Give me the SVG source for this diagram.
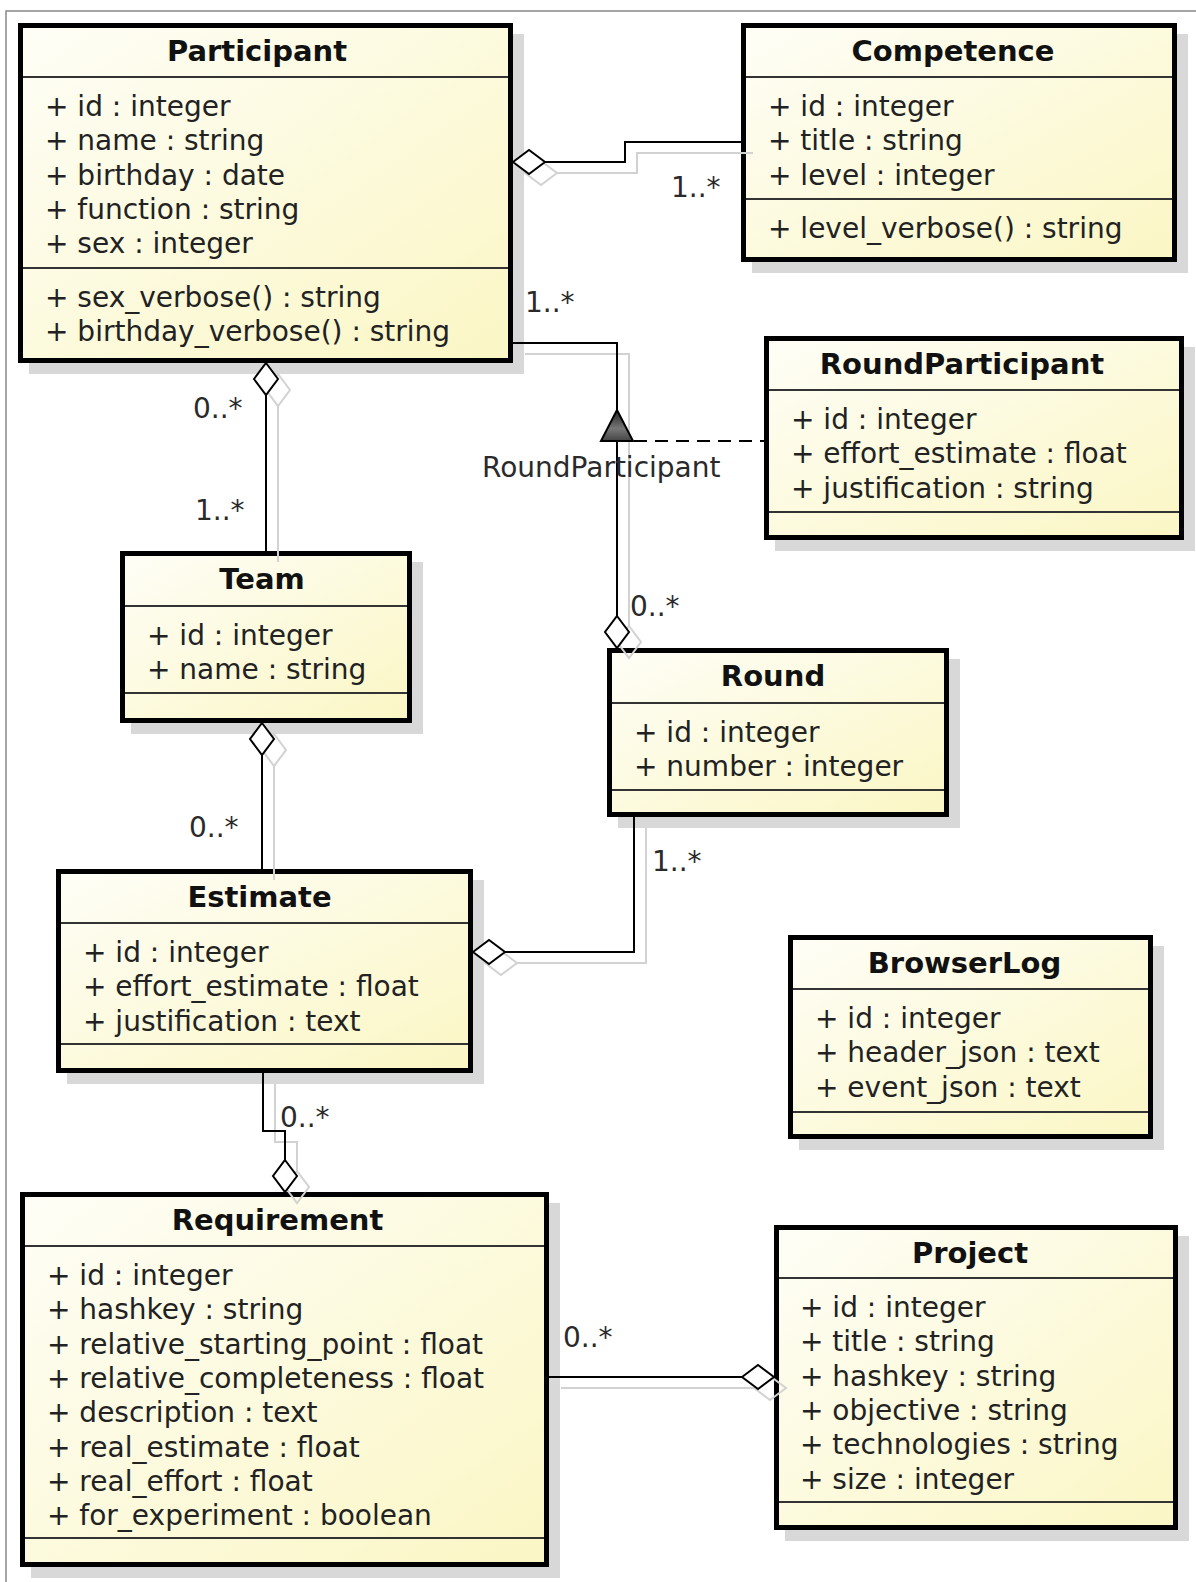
<svg xmlns="http://www.w3.org/2000/svg" width="1196" height="1582" viewBox="0 0 1196 1582">
  <defs>
    <linearGradient id="classFill" x1="0" y1="0" x2="1" y2="1">
      <stop offset="0" stop-color="#fefef7"/>
      <stop offset="1" stop-color="#fbf6c4"/>
    </linearGradient>
    <linearGradient id="triFill" x1="0" y1="0" x2="0" y2="1">
      <stop offset="0" stop-color="#222"/>
      <stop offset="0.6" stop-color="#777"/>
      <stop offset="1" stop-color="#444"/>
    </linearGradient>
    <style>
      .shadow { fill: #d8d8d8; }
      .box { fill: url(#classFill); stroke: #000; stroke-width: 5; }
      .div { stroke: #333; stroke-width: 2; }
      .title { font-family: "DejaVu Sans", sans-serif; font-size: 29px; font-weight: bold; fill: #111; text-anchor: middle; }
      .attr { font-family: "DejaVu Sans", sans-serif; font-size: 28px; fill: #222; }
      .lbl { font-family: "DejaVu Sans", sans-serif; font-size: 28px; fill: #2a2a2a; }
      .line { fill: none; stroke: #000; stroke-width: 2; }
      .ghost { fill: none; stroke: #d2d2d2; stroke-width: 2; }
      .dia { fill: #fff; stroke: #000; stroke-width: 2; }
      .frame { stroke: #888; stroke-width: 1.5; fill: none; }
    </style>
  </defs>

  <rect width="1196" height="1582" fill="#fff"/>
  <!-- diagram frame -->
  <path class="frame" d="M1196,11 H6 V1582"/>

  <!-- class boxes -->
  <g id="Participant">
    <rect class="shadow" x="29" y="34" width="495" height="340"/>
    <rect class="box" x="20.5" y="25.5" width="490" height="335"/>
    <line class="div" x1="23" y1="77" x2="508" y2="77"/>
    <line class="div" x1="23" y1="268" x2="508" y2="268"/>
    <text class="title" x="257" y="61">Participant</text>
    <text class="attr" x="45" y="116">+ id : integer</text>
    <text class="attr" x="45" y="150.3">+ name : string</text>
    <text class="attr" x="45" y="184.6">+ birthday : date</text>
    <text class="attr" x="45" y="218.9">+ function : string</text>
    <text class="attr" x="45" y="253.2">+ sex : integer</text>
    <text class="attr" x="45" y="307">+ sex_verbose() : string</text>
    <text class="attr" x="45" y="341.3">+ birthday_verbose() : string</text>
  </g>

  <g id="Competence">
    <rect class="shadow" x="752" y="34" width="436" height="239"/>
    <rect class="box" x="743.5" y="25.5" width="431" height="234"/>
    <line class="div" x1="746" y1="77" x2="1172" y2="77"/>
    <line class="div" x1="746" y1="199" x2="1172" y2="199"/>
    <text class="title" x="953" y="61">Competence</text>
    <text class="attr" x="768" y="116">+ id : integer</text>
    <text class="attr" x="768" y="150.3">+ title : string</text>
    <text class="attr" x="768" y="184.6">+ level : integer</text>
    <text class="attr" x="768" y="238">+ level_verbose() : string</text>
  </g>

  <g id="RoundParticipant">
    <rect class="shadow" x="775" y="347" width="420" height="204"/>
    <rect class="box" x="766.5" y="338.5" width="415" height="199"/>
    <line class="div" x1="769" y1="390" x2="1179" y2="390"/>
    <line class="div" x1="769" y1="512" x2="1179" y2="512"/>
    <text class="title" x="962" y="374">RoundParticipant</text>
    <text class="attr" x="791" y="429">+ id : integer</text>
    <text class="attr" x="791" y="463.3">+ effort_estimate : float</text>
    <text class="attr" x="791" y="497.6">+ justification : string</text>
  </g>

  <g id="Team">
    <rect class="shadow" x="131" y="562" width="292" height="172"/>
    <rect class="box" x="122.5" y="553.5" width="287" height="167"/>
    <line class="div" x1="125" y1="606" x2="407" y2="606"/>
    <line class="div" x1="125" y1="693" x2="407" y2="693"/>
    <text class="title" x="262" y="589">Team</text>
    <text class="attr" x="147" y="645">+ id : integer</text>
    <text class="attr" x="147" y="679.3">+ name : string</text>
  </g>

  <g id="Round">
    <rect class="shadow" x="618" y="659" width="342" height="169"/>
    <rect class="box" x="609.5" y="650.5" width="337" height="164"/>
    <line class="div" x1="612" y1="703" x2="944" y2="703"/>
    <line class="div" x1="612" y1="790" x2="944" y2="790"/>
    <text class="title" x="773" y="686">Round</text>
    <text class="attr" x="634" y="742">+ id : integer</text>
    <text class="attr" x="634" y="776.3">+ number : integer</text>
  </g>

  <g id="Estimate">
    <rect class="shadow" x="67" y="880" width="417" height="204"/>
    <rect class="box" x="58.5" y="871.5" width="412" height="199"/>
    <line class="div" x1="61" y1="923" x2="468" y2="923"/>
    <line class="div" x1="61" y1="1044" x2="468" y2="1044"/>
    <text class="title" x="259.5" y="907">Estimate</text>
    <text class="attr" x="83" y="962">+ id : integer</text>
    <text class="attr" x="83" y="996.3">+ effort_estimate : float</text>
    <text class="attr" x="83" y="1030.6">+ justification : text</text>
  </g>

  <g id="BrowserLog">
    <rect class="shadow" x="799" y="946" width="365" height="204"/>
    <rect class="box" x="790.5" y="937.5" width="360" height="199"/>
    <line class="div" x1="793" y1="989" x2="1148" y2="989"/>
    <line class="div" x1="793" y1="1112" x2="1148" y2="1112"/>
    <text class="title" x="964.5" y="973">BrowserLog</text>
    <text class="attr" x="815" y="1028">+ id : integer</text>
    <text class="attr" x="815" y="1062.3">+ header_json : text</text>
    <text class="attr" x="815" y="1096.6">+ event_json : text</text>
  </g>

  <g id="Requirement">
    <rect class="shadow" x="31" y="1203" width="529" height="375"/>
    <rect class="box" x="22.5" y="1194.5" width="524" height="370"/>
    <line class="div" x1="25" y1="1246" x2="544" y2="1246"/>
    <line class="div" x1="25" y1="1538" x2="544" y2="1538"/>
    <text class="title" x="277.5" y="1230">Requirement</text>
    <text class="attr" x="47" y="1285">+ id : integer</text>
    <text class="attr" x="47" y="1319.3">+ hashkey : string</text>
    <text class="attr" x="47" y="1353.6">+ relative_starting_point : float</text>
    <text class="attr" x="47" y="1387.9">+ relative_completeness : float</text>
    <text class="attr" x="47" y="1422.2">+ description : text</text>
    <text class="attr" x="47" y="1456.5">+ real_estimate : float</text>
    <text class="attr" x="47" y="1490.8">+ real_effort : float</text>
    <text class="attr" x="47" y="1525.1">+ for_experiment : boolean</text>
  </g>

  <g id="Project">
    <rect class="shadow" x="785" y="1236" width="404" height="305"/>
    <rect class="box" x="776.5" y="1227.5" width="399" height="300"/>
    <line class="div" x1="779" y1="1278" x2="1173" y2="1278"/>
    <line class="div" x1="779" y1="1502" x2="1173" y2="1502"/>
    <text class="title" x="970" y="1263">Project</text>
    <text class="attr" x="800" y="1317">+ id : integer</text>
    <text class="attr" x="800" y="1351.3">+ title : string</text>
    <text class="attr" x="800" y="1385.6">+ hashkey : string</text>
    <text class="attr" x="800" y="1419.9">+ objective : string</text>
    <text class="attr" x="800" y="1454.2">+ technologies : string</text>
    <text class="attr" x="800" y="1488.5">+ size : integer</text>
  </g>

  <!-- associations -->
  <g id="connectors">
    <!-- soft offset copies of the lines -->
    <g class="ghosts">
      <path class="ghost" d="M525,173 L541,161 L557,173 L541,185 Z M557,173 H637 V153 H753"/>
      <path class="ghost" d="M278,374 L290,390 L278,406 L266,390 Z M278,406 V562"/>
      <path class="ghost" d="M274,734 L286,750 L274,766 L262,750 Z M274,766 V880"/>
      <path class="ghost" d="M525,354 H629 V626 M629,626 L641,642 L629,658 L617,642 Z"/>
      <path class="ghost" d="M485,963 L501,951 L517,963 L501,975 Z M517,963 H646 V828"/>
      <path class="ghost" d="M275,1084 V1142 H297 V1171 M297,1171 L309,1187 L297,1203 L285,1187 Z"/>
      <path class="ghost" d="M561,1388 H754 M754,1388 L770,1376 L786,1388 L770,1400 Z"/>
    </g>

    <!-- Participant o- Competence -->
    <path class="line" d="M545,162 H625 V142 H741"/>
    <path class="dia" d="M513,162 L529,150 L545,162 L529,174 Z"/>
    <text class="lbl" x="671" y="197">1..*</text>

    <!-- Participant o- Team -->
    <path class="line" d="M266,395 V551"/>
    <path class="dia" d="M266,363 L278,379 L266,395 L254,379 Z"/>
    <text class="lbl" x="193" y="418">0..*</text>
    <text class="lbl" x="195" y="520">1..*</text>

    <!-- Team o- Estimate -->
    <path class="line" d="M262,755 V869"/>
    <path class="dia" d="M262,723 L274,739 L262,755 L250,739 Z"/>
    <text class="lbl" x="189" y="837">0..*</text>

    <!-- Participant - Round, association class RoundParticipant -->
    <path class="line" d="M513,343 H617 V616"/>
    <path class="dia" d="M617,616 L629,632 L617,648 L605,632 Z"/>
    <path d="M634,441 H764" fill="none" stroke="#000" stroke-width="2" stroke-dasharray="13 8"/>
    <path d="M617,410 L633,441 L601,441 Z" fill="url(#triFill)" stroke="#000" stroke-width="2" stroke-linejoin="miter"/>
    <text class="lbl" x="482" y="477">RoundParticipant</text>
    <text class="lbl" x="525" y="312">1..*</text>
    <text class="lbl" x="630" y="616">0..*</text>

    <!-- Round o- Estimate -->
    <path class="line" d="M634,817 V952 H505"/>
    <path class="dia" d="M473,952 L489,940 L505,952 L489,964 Z"/>
    <text class="lbl" x="652" y="871">1..*</text>

    <!-- Estimate -o Requirement -->
    <path class="line" d="M263,1073 V1131 H285 V1160"/>
    <path class="dia" d="M285,1160 L297,1176 L285,1192 L273,1176 Z"/>
    <text class="lbl" x="280" y="1127">0..*</text>

    <!-- Requirement -o Project -->
    <path class="line" d="M549,1377 H742"/>
    <path class="dia" d="M742,1377 L758,1365 L774,1377 L758,1389 Z"/>
    <text class="lbl" x="563" y="1347">0..*</text>
  </g>
</svg>
